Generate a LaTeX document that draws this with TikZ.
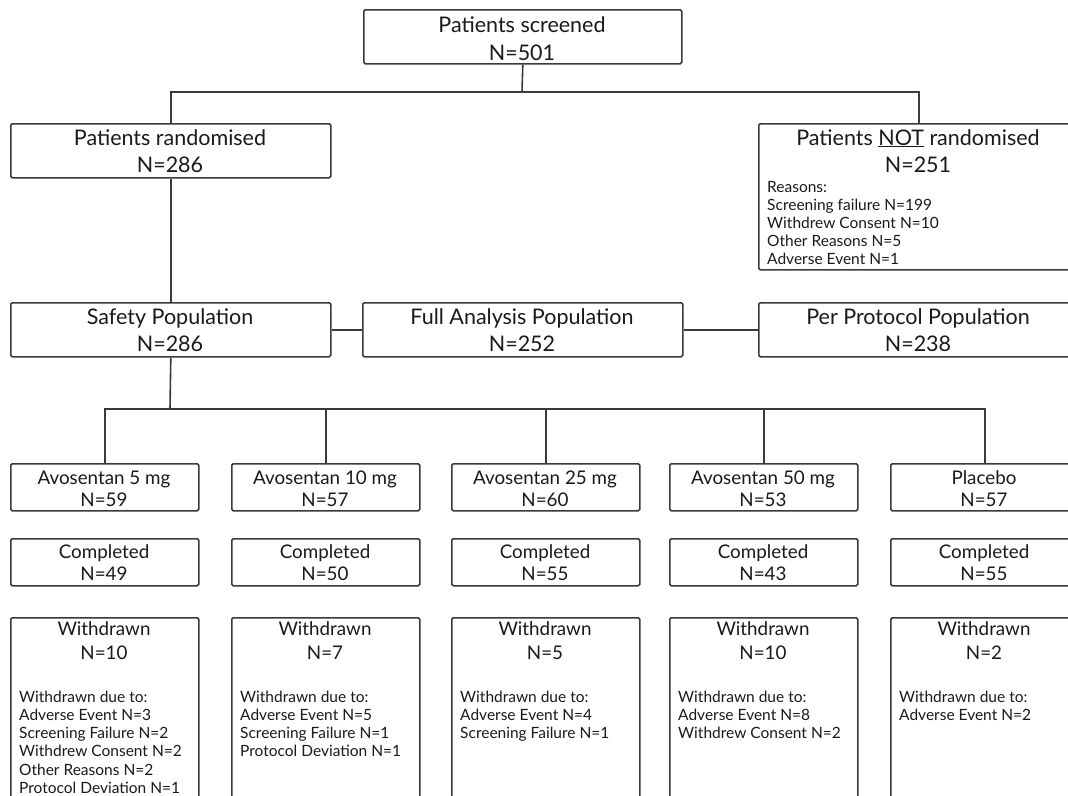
\documentclass[tikz,border=0pt]{standalone}
\usepackage{fontspec}
\setmainfont{Lato}
\definecolor{linec}{HTML}{3A3A3A}
\definecolor{txt}{HTML}{1A1A1A}
\tikzset{
  box/.style={draw=linec, line width=1.6pt, rounded corners=1.5pt, inner sep=0pt, anchor=north west},
  conn/.style={draw=linec, line width=1.6pt},
  big/.style={font=\fontsize{21.5}{26}\selectfont, text=txt, inner sep=0pt, anchor=base},
  mid/.style={font=\fontsize{18.8}{22}\selectfont, text=txt, inner sep=0pt, anchor=base},
  small/.style={font=\fontsize{15.5}{18}\selectfont, text=txt, inner sep=0pt, anchor=base west},
}
\begin{document}
\begin{tikzpicture}[x=1pt,y=-1pt]
\clip (0,0) rectangle (1068,795);
\fill[white] (0,0) rectangle (1068,795);
% top level boxes
\node[box, minimum width=318pt, minimum height=54pt] (scr) at (363,9) {};
\node[box, minimum width=320pt, minimum height=54pt] (ran) at (10,123) {};
\node[box, minimum width=320pt, minimum height=146pt] (nran) at (758,123) {};
\node[box, minimum width=320pt, minimum height=54pt] (saf) at (10,302) {};
\node[box, minimum width=320pt, minimum height=54pt] (fap) at (362,302) {};
\node[box, minimum width=320pt, minimum height=54pt] (ppp) at (758,302) {};
% texts
\node[big] (scrA) at (522,32) {Patients screened};
\node[big] (scrB) at (522,60) {N=501};
\node[big] (ranA) at (170,145) {Patients randomised};
\node[big] (ranB) at (170,172) {N=286};
\node[big] (nranA) at (918,145) {Patients \underline{NOT} randomised};
\node[big] (nranB) at (918,172) {N=251};
\node[small] (r1) at (767,192) {Reasons:};
\node[small] (r2) at (767,210) {Screening failure N=199};
\node[small] (r3) at (767,228) {Withdrew Consent N=10};
\node[small] (r4) at (767,246) {Other Reasons N=5};
\node[small] (r5) at (767,264) {Adverse Event N=1};
\node[big] (safA) at (170,324) {Safety Population};
\node[big] (safB) at (170,351) {N=286};
\node[big] (fapA) at (522,324) {Full Analysis Population};
\node[big] (fapB) at (522,351) {N=252};
\node[big] (pppA) at (918,324) {Per Protocol Population};
\node[big] (pppB) at (918,351) {N=238};
% connectors top
\coordinate (j1) at (522,92);
\draw[conn] (scr.south) -- (j1);
\draw[conn] (ran.north) |- (j1) -| (nran.north);
\draw[conn] (ran.south) -- (saf.north);
\draw[conn] (saf.east) -- (fap.west);
\draw[conn] (fap.east) -- (ppp.west);
\coordinate (j2) at (170,409);
\draw[conn] (saf.south) -- (j2);
% arms
\foreach \i/\x/\nm/\na/\nc/\nw in {1/10/Avosentan 5 mg/59/49/10, 2/231/Avosentan 10 mg/57/50/7, 3/451/Avosentan 25 mg/60/55/5, 4/669/Avosentan 50 mg/53/43/10, 5/890/Placebo/57/55/2}{
  \node[box, minimum width=188pt, minimum height=47pt] (arm\i) at (\x,463) {};
  \node[box, minimum width=188pt, minimum height=47pt] (cmp\i) at (\x,538) {};
  \node[box, minimum width=188pt, minimum height=240pt] (wd\i) at (\x,617) {};
  \node[mid] (armA\i) at (\x+94,484) {\nm};
  \node[mid] (armB\i) at (\x+94,506) {N=\na};
  \node[mid] (cmpA\i) at (\x+94,558) {Completed};
  \node[mid] (cmpB\i) at (\x+94,580) {N=\nc};
  \node[mid] (wdA\i) at (\x+94,635) {Withdrawn};
  \node[mid] (wdB\i) at (\x+94,659) {N=\nw};
  \node[small] (wdC\i) at (\x+9,702) {Withdrawn due to:};
}
\draw[conn] (arm1.north) |- (arm5.north |- j2) -- (arm5.north);
\foreach \i in {2,3,4}{\draw[conn] (arm\i.north) -- (arm\i.north |- j2);}
% withdrawal reasons
\node[small] (w11) at (19,720.3) {Adverse Event N=3};
\node[small] (w12) at (19,738.6) {Screening Failure N=2};
\node[small] (w13) at (19,756.9) {Withdrew Consent N=2};
\node[small] (w14) at (19,775.2) {Other Reasons N=2};
\node[small] (w15) at (19,793.5) {Protocol Deviation N=1};
\node[small] (w21) at (240,720.3) {Adverse Event N=5};
\node[small] (w22) at (240,738.6) {Screening Failure N=1};
\node[small] (w23) at (240,756.9) {Protocol Deviation N=1};
\node[small] (w31) at (460,720.3) {Adverse Event N=4};
\node[small] (w32) at (460,738.6) {Screening Failure N=1};
\node[small] (w41) at (678,720.3) {Adverse Event N=8};
\node[small] (w42) at (678,738.6) {Withdrew Consent N=2};
\node[small] (w51) at (899,720.3) {Adverse Event N=2};
\end{tikzpicture}
\end{document}
